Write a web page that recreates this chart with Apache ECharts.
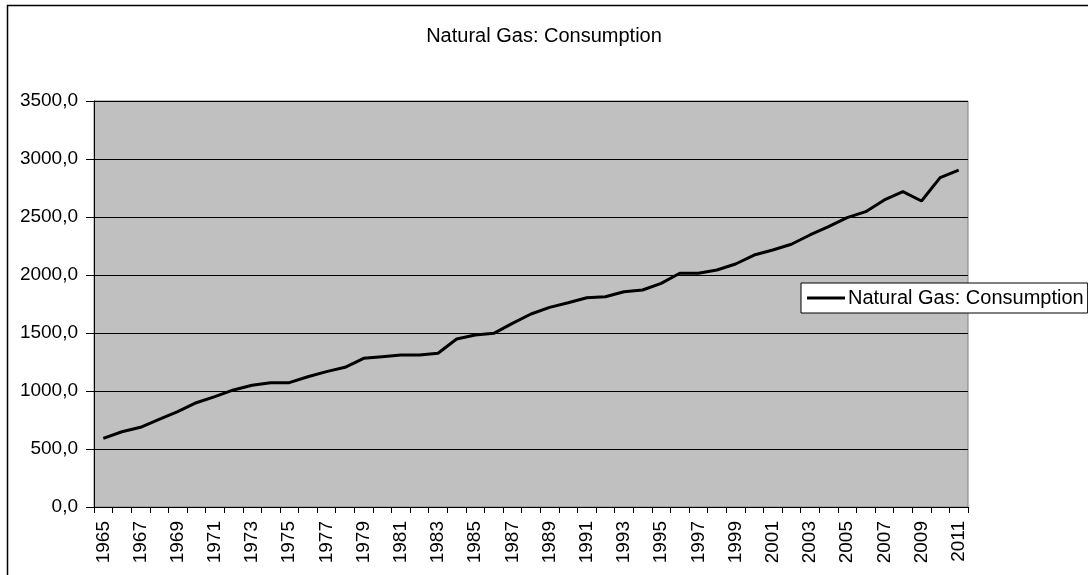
<!DOCTYPE html>
<html>
<head>
<meta charset="utf-8">
<script src="https://cdn.jsdelivr.net/npm/echarts@6/dist/echarts.min.js"></script>
<style>
  html, body { margin: 0; padding: 0; background: #fff; }
  #chart { width: 1088px; height: 575px; }
</style>
</head>
<body>
<div id="chart"></div>
<script>
var years = [];
for (var y = 1965; y <= 2011; y++) years.push(String(y));

// consumption values
var consumption = [
  592, 649, 687, 756, 822, 899, 951, 1009, 1049, 1072,
  1072, 1123, 1167, 1204, 1282, 1296, 1310, 1310, 1325, 1448,
  1483, 1497, 1583, 1664, 1721, 1761, 1804, 1813, 1856, 1871,
  1928, 2015, 2015, 2043, 2095, 2172, 2216, 2265, 2345, 2417,
  2494, 2546, 2647, 2718, 2638, 2839, 2905
];

var yTicks = { min: 0, max: 3500, step: 500 };

var myChart = echarts.init(document.getElementById('chart'));
var font = 'Liberation Sans, Arial, sans-serif';

var option = {
    animation: false,
    backgroundColor: '#fff',
    title: {
        text: 'Natural Gas: Consumption',
        left: 'center',
        top: 21,
        textStyle: { fontFamily: font, fontSize: 20, fontWeight: 'normal', color: '#000' }
    },
    graphic: [{
        type: 'rect',
        shape: { x: 7.5, y: 5.5, width: 1100, height: 600 },
        style: { fill: 'none', stroke: '#000', lineWidth: 1.5 },
        z: -1
    }],
    legend: {
        left: 801,
        top: 283,
        backgroundColor: '#fff',
        borderColor: '#000',
        borderWidth: 1,
        padding: [5, 4, 5, 6],
        itemWidth: 38,
        itemHeight: 3,
        icon: 'rect',
        textStyle: { fontFamily: font, fontSize: 20, color: '#000', padding: [0, 0, 0, -2] },
        data: ['Natural Gas: Consumption'],
        z: 10
    },
    grid: {
        left: 94,
        top: 101,
        width: 874,
        height: 406,
        show: true,
        backgroundColor: '#c0c0c0',
        borderColor: '#808080',
        borderWidth: 1
    },
    xAxis: {
        type: 'category',
        data: years,
        boundaryGap: true,
        axisLine: { lineStyle: { color: '#000', width: 1 } },
        axisTick: { show: true, interval: 0, length: 6, lineStyle: { color: '#000' } },
        axisLabel: {
            interval: 1,
            rotate: 90,
            fontFamily: font,
            fontSize: 19,
            color: '#000',
            margin: 14
        },
        splitLine: { show: false }
    },
    yAxis: {
        type: 'value',
        min: yTicks.min,
        max: yTicks.max,
        interval: yTicks.step,
        axisLine: { show: true, lineStyle: { color: '#000', width: 1 } },
        axisTick: { show: true, length: 8, lineStyle: { color: '#000' } },
        axisLabel: {
            fontFamily: font,
            fontSize: 19,
            color: '#000',
            margin: 16,
            formatter: function (v) { return v.toFixed(1).replace('.', ','); }
        },
        splitLine: { show: true, lineStyle: { color: '#000', width: 1 } }
    },
    series: [{
        name: 'Natural Gas: Consumption',
        type: 'line',
        data: consumption,
        symbol: 'none',
        lineStyle: { color: '#000', width: 3 },
        itemStyle: { color: '#000' }
    }]
};

myChart.setOption(option);
</script>
</body>
</html>
